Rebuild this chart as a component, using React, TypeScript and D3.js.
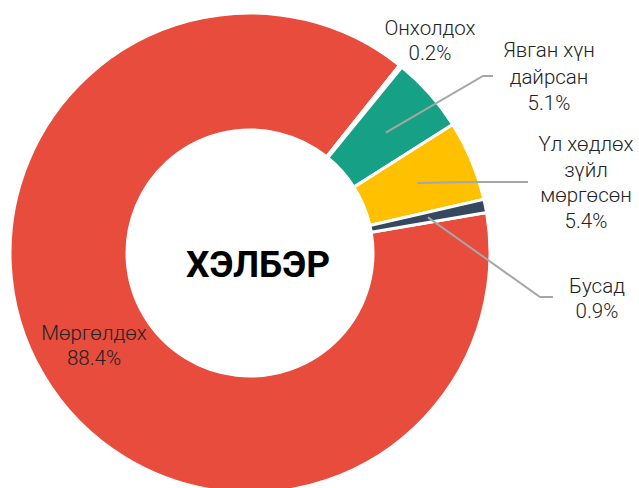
import React from "react";
import * as d3 from "d3";

const categories = ["Мөргөлдөх", "Онхолдох", "Явган хүн дайрсан", "Үл хөдлөх зүйл мөргөсөн", "Бусад"];
const values = [88.4, 0.2, 5.1, 5.4, 0.9];
const labelLines = [
  ["Мөргөлдөх", "88.4%"],
  ["Онхолдох", "0.2%"],
  ["Явган хүн", "дайрсан", "5.1%"],
  ["Үл хөдлөх", "зүйл", "мөргөсөн", "5.4%"],
  ["Бусад", "0.9%"],
];
const colors = ["#E74C3C", "#9E9E9E", "#16A085", "#FFC000", "#34495E"];
const title = "ХЭЛБЭР";

const W = 639;
const H = 488;
const cx = 250;
const cy = 253;
const outerR = 240;
const innerR = 123;
const startDeg = 80.3;

const labelLayout = [
  { x: 94, y: 340, lh: 25, leader: null as null | { elbow: [number, number]; end: [number, number] } },
  { x: 430, y: 35, lh: 25, leader: null },
  { x: 549, y: 57, lh: 26.5, leader: { elbow: [483, 76], end: [493, 76] } },
  { x: 586, y: 151, lh: 25.7, leader: { elbow: [470, 182], end: [528, 182] } },
  { x: 597, y: 293, lh: 25, leader: { elbow: [540, 297], end: [553, 297] } },
];

export default function App() {
  const data = categories.map((c, i) => ({ c, v: values[i], i }));
  const start = (startDeg * Math.PI) / 180;
  const pie = d3
    .pie<{ c: string; v: number; i: number }>()
    .sort(null)
    .value((d) => d.v)
    .startAngle(start)
    .endAngle(start + 2 * Math.PI);
  const arcs = pie(data);
  const arc = d3
    .arc<d3.PieArcDatum<{ c: string; v: number; i: number }>>()
    .innerRadius(innerR)
    .outerRadius(outerR);
  const font = "Roboto, 'Noto Sans', sans-serif";

  return (
    <svg width={W} height={H} style={{ position: "absolute", left: 0, top: 0 }}>
      <rect width={W} height={H} fill="#fff" />
      <g transform={`translate(${cx},${cy})`}>
        {arcs.map((a) => (
          <path key={a.data.c} d={arc(a) || ""} fill={colors[a.index]} stroke="#fff" strokeWidth={3} strokeLinejoin="miter" />
        ))}
      </g>
      {arcs.map((a) => {
        const L = labelLayout[a.index];
        if (!L.leader) return null;
        const [px, py] = arc.centroid(a);
        const pts: [number, number][] = [
          [cx + px, cy + py],
          L.leader.elbow as [number, number],
          L.leader.end as [number, number],
        ];
        return (
          <polyline
            key={"l" + a.index}
            points={pts.map((p) => p.join(",")).join(" ")}
            fill="none"
            stroke="#A6A6A6"
            strokeWidth={2}
          />
        );
      })}
      {labelLines.map((lines, i) => {
        const L = labelLayout[i];
        return (
          <text key={"t" + i} x={L.x} y={L.y} textAnchor="middle" fontFamily={font} fontWeight={300} fontSize={20.5} fill="#222">
            {lines.map((ln, j) => (
              <tspan key={j} x={L.x} y={L.y + j * L.lh}>
                {ln}
              </tspan>
            ))}
          </text>
        );
      })}
      <text x={258} y={277} textAnchor="middle" fontFamily={font} fontWeight={700} fontSize={37} fill="#000">
        {title}
      </text>
    </svg>
  );
}
